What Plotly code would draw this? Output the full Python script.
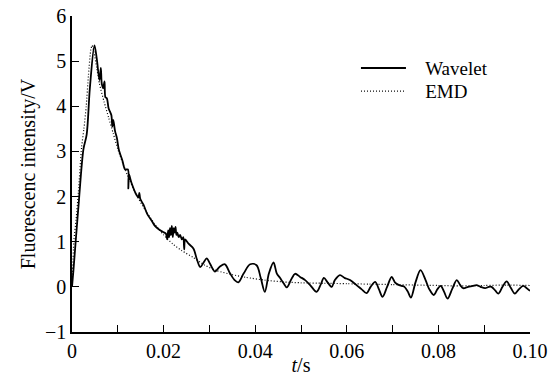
import plotly.graph_objects as go

# Wavelet-denoised signal
wavelet_t = [0, 0.0003, 0.0008, 0.0015, 0.0025, 0.0032, 0.0039, 0.0049, 0.0054, 0.0060, 0.0063, 0.0065,
             0.0068, 0.0071, 0.0073, 0.0076, 0.0080, 0.0083, 0.0086, 0.0088, 0.0090, 0.0094, 0.0098,
             0.0102, 0.0105, 0.0110, 0.0116, 0.0122, 0.0123, 0.0124, 0.0130, 0.0140, 0.0145, 0.0147,
             0.0149, 0.0156, 0.0165, 0.0175, 0.0181, 0.0190, 0.0198, 0.0205, 0.0208, 0.0210, 0.0212,
             0.0214, 0.0216, 0.0218, 0.0220, 0.0222, 0.0224, 0.0226, 0.0228, 0.0230, 0.0233, 0.0236,
             0.0240, 0.0243, 0.0245, 0.0247, 0.0255, 0.0265, 0.0273, 0.0280, 0.0288, 0.0294, 0.0302,
             0.0312, 0.0323, 0.0334, 0.0345, 0.0355, 0.0363, 0.0375, 0.0389, 0.0403, 0.0412, 0.0421,
             0.0430, 0.0440, 0.0447, 0.0454, 0.0462, 0.0469, 0.0478, 0.0487, 0.0498, 0.0509, 0.0520,
             0.0534, 0.0543, 0.0550, 0.0558, 0.0567, 0.0574, 0.0585, 0.0595, 0.0607, 0.0620, 0.0632,
             0.0643, 0.0652, 0.0662, 0.0670, 0.0678, 0.0688, 0.0698, 0.0705, 0.0712, 0.0720, 0.0726,
             0.0733, 0.0740, 0.0750, 0.0761, 0.0772, 0.0780, 0.0790, 0.0798, 0.0805, 0.0812, 0.0820,
             0.0830, 0.0840, 0.0847, 0.0854, 0.0865, 0.0875, 0.0883, 0.0892, 0.0902, 0.0910, 0.0916,
             0.0924, 0.0931, 0.0940, 0.0949, 0.0958, 0.0967, 0.0976, 0.0985, 0.0993, 0.1000]
wavelet_v = [0, 0.35, 1.0, 1.9, 3.05, 3.37, 4.4, 5.35, 5.06, 4.58, 4.85, 4.5,
             4.4, 4.55, 4.2, 4.18, 3.95, 3.88, 3.8, 3.55, 3.7, 3.45, 3.3,
             3.05, 2.95, 2.8, 2.6, 2.6, 2.18, 2.5, 2.3, 2.05, 1.98, 2.08,
             1.95, 1.82, 1.6, 1.45, 1.35, 1.27, 1.22, 1.18, 1.05, 1.25, 1.1,
             1.3, 1.15, 1.35, 1.1, 1.3, 1.2, 1.33, 1.15, 1.2, 1.1, 1.15,
             1.05, 1.1, 0.83, 1.05, 0.95, 0.85, 0.6, 0.44, 0.55, 0.63, 0.5,
             0.34, 0.45, 0.5, 0.3, 0.15, 0.1, 0.3, 0.5, 0.48, 0.2, -0.11,
             0.3, 0.54, 0.3, 0.2, 0.08, -0.01, 0.15, 0.29, 0.22, 0.15, 0.04,
             -0.11, 0.05, 0.2, 0.1, 0.0, 0.15, 0.26, 0.2, 0.15, 0.05, -0.05,
             -0.14, 0.0, 0.11, -0.05, -0.22, 0.0, 0.22, 0.1, 0.05, 0.02, 0.0,
             -0.1, -0.24, 0.1, 0.37, 0.15, -0.05, -0.18, -0.05, 0.02, -0.1, -0.26,
             -0.05, 0.15, 0.05, -0.03, 0.0, 0.02, 0.04, 0.0, -0.03, 0.0, 0.0,
             -0.08, -0.15, 0.0, 0.12, -0.02, -0.15, -0.05, 0.02, -0.03, -0.09]

# EMD-denoised signal
emd_t = [0, 0.0004, 0.0009, 0.0014, 0.0021, 0.0026, 0.0031, 0.0036, 0.0041, 0.0044, 0.0048, 0.0054,
         0.0060, 0.0070, 0.0080, 0.0090, 0.0100, 0.0120, 0.0140, 0.0160, 0.0180, 0.0200, 0.0220,
         0.0240, 0.0265, 0.0290, 0.0316, 0.0350, 0.0380, 0.0420, 0.0460, 0.0500, 0.0550, 0.0600,
         0.0650, 0.0700, 0.0750, 0.0800, 0.0850, 0.0900, 0.0950, 0.1000]
emd_v = [0, 1.0, 1.5, 2.1, 3.1, 3.5, 4.0, 4.7, 5.25, 5.35, 5.2, 4.85,
         4.5, 4.1, 3.75, 3.4, 3.05, 2.5, 2.05, 1.7, 1.4, 1.15, 0.95,
         0.8, 0.65, 0.48, 0.36, 0.27, 0.21, 0.15, 0.11, 0.09, 0.08, 0.07,
         0.06, 0.05, 0.04, 0.03, 0.02, 0.03, 0.04, 0.03]

x_ticks = [0, 0.02, 0.04, 0.06, 0.08, 0.10]
x_tick_labels = ["0", "0.02", "0.04", "0.06", "0.08", "0.10"]
y_ticks = [-1, 0, 1, 2, 3, 4, 5, 6]
y_tick_labels = ["\u22121", "0", "1", "2", "3", "4", "5", "6"]

FONT = "Liberation Serif"
NB = "\u00a0\u00a0\u00a0"

fig = go.Figure()
fig.add_trace(go.Scatter(x=wavelet_t, y=wavelet_v, mode="lines", name=NB + "Wavelet", legend="legend",
                         line=dict(color="black", width=1.8, shape="spline", smoothing=0.9)))
fig.add_trace(go.Scatter(x=emd_t, y=emd_v, mode="lines", name=NB + "EMD", legend="legend2",
                         line=dict(color="black", width=1.2, dash="1px,2px", shape="spline", smoothing=0.6)))

leg_common = dict(xanchor="left", yanchor="middle", bgcolor="rgba(0,0,0,0)",
                  font=dict(family=FONT, size=19), itemwidth=45)

fig.update_layout(
    width=551, height=376,
    margin=dict(l=72, r=21, t=16, b=44),
    paper_bgcolor="white", plot_bgcolor="white",
    font=dict(family=FONT, size=20, color="black"),
    showlegend=True,
    legend=dict(x=0.62, y=0.835, **leg_common),
    legend2=dict(x=0.62, y=0.762, **leg_common),
    xaxis=dict(range=[0, 0.1], tickvals=x_ticks, ticktext=x_tick_labels, automargin=False,
               showgrid=False, zeroline=False, showline=True, linecolor="black", linewidth=1.5,
               ticks="inside", ticklen=7, tickwidth=1.3, tickcolor="black",
               minor=dict(dtick=0.01, tick0=0, ticks="inside", ticklen=7, tickwidth=1.3, tickcolor="black"),
               tickfont=dict(family=FONT, size=20),
               title=dict(text="<i>t</i>/s", font=dict(family=FONT, size=20), standoff=0)),
    yaxis=dict(range=[-1, 6], tickvals=y_ticks, ticktext=y_tick_labels, automargin=False,
               showgrid=False, zeroline=False, showline=True, linecolor="black", linewidth=1.5,
               ticks="inside", ticklen=7, tickwidth=1.3, tickcolor="black",
               tickfont=dict(family=FONT, size=20),
               title=dict(text="Fluorescenc intensity/V", font=dict(family=FONT, size=20), standoff=4)),
)

fig.write_html("out.html")
